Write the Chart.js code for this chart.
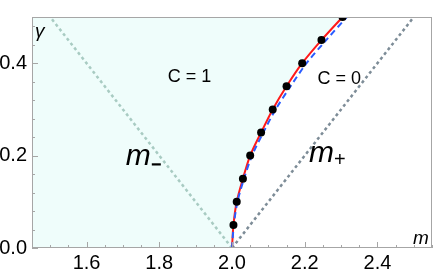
<!DOCTYPE html>
<html>
<head>
<meta charset="utf-8">
<script src="https://cdn.jsdelivr.net/npm/chart.js@4"></script>
<style>
  html, body { margin: 0; padding: 0; background: #fff; }
  #wrap { width: 436px; height: 272px; }
</style>
</head>
<body>
<div id="wrap"><canvas id="chart" width="436" height="272"></canvas></div>
<script>
// ----------- data -----------
const gammaVals = [0, 0.05, 0.10, 0.15, 0.20, 0.25, 0.30, 0.35, 0.40, 0.45, 0.50];
const redM  = [2.000, 2.004, 2.013, 2.030, 2.050, 2.080, 2.112, 2.150, 2.193, 2.246, 2.304];
const blueM = [2.000, 2.005, 2.015, 2.033, 2.055, 2.086, 2.120, 2.161, 2.205, 2.259, 2.316];
const dotGamma = [0.05, 0.10, 0.15, 0.20, 0.25, 0.30, 0.35, 0.40, 0.45, 0.50];
const dotM     = [2.004, 2.013, 2.030, 2.050, 2.080, 2.112, 2.150, 2.193, 2.246, 2.304];
const mMinusM = [2.0, 1.5], mMinusG = [0, 0.5];
const mPlusM  = [2.0, 2.5], mPlusG  = [0, 0.5];
const xTicks = [1.6, 1.8, 2.0, 2.2, 2.4];
const yTicks = [0.0, 0.2, 0.4];

const pts = (xs, ys) => xs.map((x, i) => ({ x: x, y: ys[i] }));

// fill region: left edge along bottom to m = 2, then up the red curve; filled to top
const fillPts = [{ x: 1.45, y: 0 }].concat(pts(redM, gammaVals));

const FONT = '"Liberation Sans", Arial, sans-serif';
const frameColor = '#a6a6a6';

// ----------- frame, inside ticks and labels -----------
const decor = {
  id: 'decor',
  afterDatasetsDraw(chart) {
    const { ctx, chartArea: a, scales: { x, y } } = chart;
    ctx.save();
    ctx.strokeStyle = frameColor;
    ctx.lineWidth = 1;
    ctx.strokeRect(a.left + 0.5, a.top + 0.5, a.right - a.left - 1, a.bottom - a.top - 1);

    ctx.beginPath();
    for (let v = 1.45; v <= 2.55 + 1e-9; v += 0.05) {
      const px = Math.round(x.getPixelForValue(v)) + 0.5;
      const major = xTicks.some(t => Math.abs(t - v) < 1e-6);
      const len = major ? 6 : 3;
      ctx.moveTo(px, a.bottom); ctx.lineTo(px, a.bottom - len);
    }
    for (let v = 0; v <= 0.5 + 1e-9; v += 0.04) {
      const py = Math.round(y.getPixelForValue(v)) + 0.5;
      const major = yTicks.some(t => Math.abs(t - v) < 1e-6);
      const len = major ? 6 : 3;
      ctx.moveTo(a.left, py); ctx.lineTo(a.left + len, py);
    }
    ctx.stroke();

    ctx.fillStyle = '#000';
    ctx.textAlign = 'center';
    ctx.textBaseline = 'middle';
    ctx.font = '18px ' + FONT;
    ctx.fillText('C = 1', x.getPixelForValue(1.883), y.getPixelForValue(0.369));
    ctx.fillText('C = 0', x.getPixelForValue(2.295), y.getPixelForValue(0.365));

    // axis names
    ctx.font = 'italic 19px ' + FONT;
    ctx.textAlign = 'left';
    ctx.textBaseline = 'alphabetic';
    ctx.fillText('γ', a.left + 3, a.top + 20);
    ctx.fillText('m', a.right - 19, a.bottom - 4);

    // m- and m+
    ctx.font = 'italic 30px ' + FONT;
    const mmx = x.getPixelForValue(1.708), mmy = y.getPixelForValue(0.179);
    ctx.fillText('m', mmx, mmy);
    const wm = ctx.measureText('m').width;
    ctx.fillRect(mmx + wm + 1, mmy - 2, 9, 2.2);
    const mpx = x.getPixelForValue(2.212), mpy = y.getPixelForValue(0.187);
    ctx.fillText('m', mpx, mpy);
    ctx.font = '20px ' + FONT;
    ctx.fillText('+', mpx + wm, mpy + 4);
    ctx.restore();
  }
};

new Chart(document.getElementById('chart'), {
  type: 'scatter',
  data: {
    datasets: [
      { data: fillPts, showLine: true, borderWidth: 0, pointRadius: 0,
        backgroundColor: '#effdfb', fill: 'end', tension: 0.3, order: 10 },
      { data: pts(mMinusM, mMinusG), showLine: true, borderColor: '#a8cbc2', borderWidth: 2.5,
        borderDash: [3, 3], pointRadius: 0, order: 5 },
      { data: pts(mPlusM, mPlusG), showLine: true, borderColor: '#7d8c97', borderWidth: 2.5,
        borderDash: [3, 3], pointRadius: 0, order: 5 },
      { data: pts(redM, gammaVals), showLine: true, borderColor: '#ff1a1a', borderWidth: 2,
        pointRadius: 0, tension: 0.3, order: 3 },
      { data: pts(blueM, gammaVals), showLine: true, borderColor: '#2a5cff', borderWidth: 2,
        borderDash: [6, 4], pointRadius: 0, tension: 0.3, order: 2 },
      { data: pts(dotM, dotGamma), showLine: false, pointRadius: 4, pointBackgroundColor: '#000',
        pointBorderWidth: 0, order: 1 }
    ]
  },
  options: {
    responsive: false,
    animation: false,
    layout: { padding: { top: 4, right: 3, left: 0, bottom: 0 } },
    plugins: { legend: { display: false }, tooltip: { enabled: false } },
    scales: {
      x: {
        type: 'linear', min: 1.45, max: 2.55,
        grid: { display: false, drawTicks: false },
        border: { display: false },
        afterBuildTicks: s => { s.ticks = xTicks.map(v => ({ value: v })); },
        afterFit: s => { s.height = 24; },
        ticks: { color: '#000', padding: 3, font: { family: FONT, size: 20 },
                 maxRotation: 0, callback: v => v.toFixed(1) }
      },
      y: {
        type: 'linear', min: 0, max: 0.5,
        grid: { display: false, drawTicks: false },
        border: { display: false },
        afterBuildTicks: s => { s.ticks = yTicks.map(v => ({ value: v })); },
        afterFit: s => { s.width = 32; },
        ticks: { color: '#000', padding: 5, font: { family: FONT, size: 20 },
                 callback: v => v.toFixed(1) }
      }
    }
  },
  plugins: [decor]
});
</script>
</body>
</html>
